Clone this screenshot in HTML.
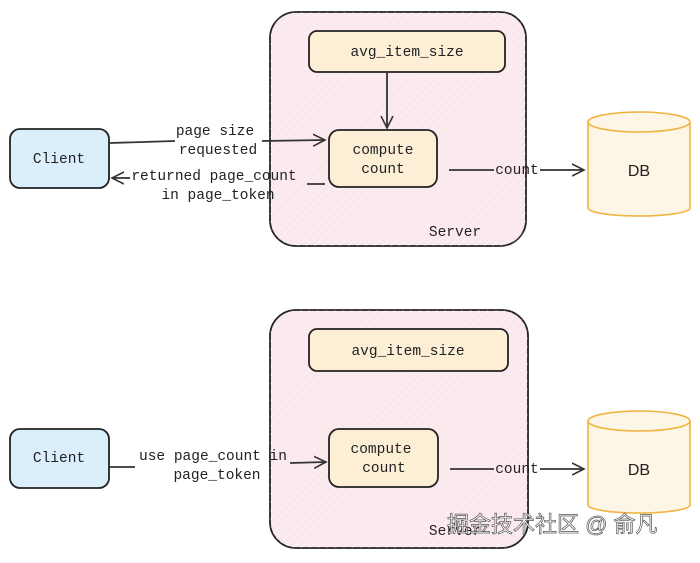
<!DOCTYPE html>
<html><head><meta charset="utf-8"><style>
body{margin:0;background:#fff;width:700px;height:558px;overflow:hidden}
text{font-family:"Liberation Mono",monospace;font-size:14.5px;fill:#222}
</style></head><body>
<svg width="700" height="558" viewBox="0 0 700 558" xmlns="http://www.w3.org/2000/svg">
<defs>
<pattern id="h" width="6" height="6" patternUnits="userSpaceOnUse" patternTransform="rotate(45)">
<line x1="0" y1="0" x2="0" y2="6" stroke="#ffffff" stroke-opacity="0.55" stroke-width="1.2"/>
</pattern>
<marker id="a" markerWidth="14" markerHeight="14" refX="12" refY="7" orient="auto" markerUnits="userSpaceOnUse">
<path d="M0,1 L12,7 L0,13" fill="none" stroke="#333" stroke-width="1.6"/>
</marker>
</defs>
<g stroke="#222" stroke-width="1.8">
<rect x="270" y="12" width="256" height="234" rx="26" fill="#fbe8ec"/>
<rect x="270" y="12" width="256" height="234" rx="26" fill="url(#h)" stroke="none"/>
<rect x="309" y="31" width="196" height="41" rx="8" fill="#fcefd6"/>
<rect x="329" y="130" width="108" height="57" rx="10" fill="#fcefd6"/>
<rect x="10" y="129" width="99" height="59" rx="10" fill="#dbeefb"/>
<rect x="270" y="310" width="258" height="238" rx="26" fill="#fbe8ec"/>
<rect x="270" y="310" width="258" height="238" rx="26" fill="url(#h)" stroke="none"/>
<rect x="309" y="329" width="199" height="42" rx="8" fill="#fcefd6"/>
<rect x="329" y="429" width="109" height="58" rx="10" fill="#fcefd6"/>
<rect x="10" y="429" width="99" height="59" rx="10" fill="#dbeefb"/>
</g>
<g stroke="#f0b440" stroke-width="1.6" fill="#fdf6e6">
<path d="M588,122 L588,208 A51,8 0 0 0 690,208 L690,122"/>
<ellipse cx="639" cy="122" rx="51" ry="10"/>
<path d="M588,421 L588,505 A51,8 0 0 0 690,505 L690,421"/>
<ellipse cx="639" cy="421" rx="51" ry="10"/>
</g>
<g stroke="#333" stroke-width="1.8" fill="none">
<line x1="387" y1="72" x2="387" y2="128" marker-end="url(#a)"/>
<path d="M110,143 L175,141 M262,141 L325,140" marker-end="url(#a)"/>
<path d="M325,184 L307,184"/>
<line x1="130" y1="178" x2="112" y2="178" marker-end="url(#a)"/>
<path d="M449,170 L494,170 M540,170 L584,170" marker-end="url(#a)"/>
<path d="M110,467 L135,467 M290,463 L326,462" marker-end="url(#a)"/>
<path d="M450,469 L494,469 M540,469 L584,469" marker-end="url(#a)"/>
</g>
<text x="407" y="56" text-anchor="middle">avg_item_size</text>
<text x="383" y="154" text-anchor="middle">compute</text>
<text x="383" y="173" text-anchor="middle">count</text>
<text x="59" y="163" text-anchor="middle">Client</text>
<text x="215" y="135" text-anchor="middle">page size</text>
<text x="218" y="154" text-anchor="middle">requested</text>
<text x="214" y="180" text-anchor="middle">returned page_count</text>
<text x="218" y="199" text-anchor="middle">in page_token</text>
<text x="517" y="174" text-anchor="middle">count</text>
<text x="455" y="236" text-anchor="middle">Server</text>
<text x="639" y="176" text-anchor="middle" style="font-family:'Liberation Sans',sans-serif;font-size:16px">DB</text>
<text x="408" y="355" text-anchor="middle">avg_item_size</text>
<text x="381" y="453" text-anchor="middle">compute</text>
<text x="384" y="472" text-anchor="middle">count</text>
<text x="59" y="462" text-anchor="middle">Client</text>
<text x="213" y="460" text-anchor="middle">use page_count in</text>
<text x="217" y="479" text-anchor="middle">page_token</text>
<text x="517" y="473" text-anchor="middle">count</text>
<text x="455" y="535" text-anchor="middle">Server</text>
<text x="639" y="475" text-anchor="middle" style="font-family:'Liberation Sans',sans-serif;font-size:16px">DB</text>
<text x="447" y="532" style="font-family:'Liberation Sans','Noto Sans CJK SC',sans-serif;font-size:22px;fill:#fff;stroke:#555;stroke-width:0.7">掘金技术社区 @ 俞凡</text>
</svg>
</body></html>
